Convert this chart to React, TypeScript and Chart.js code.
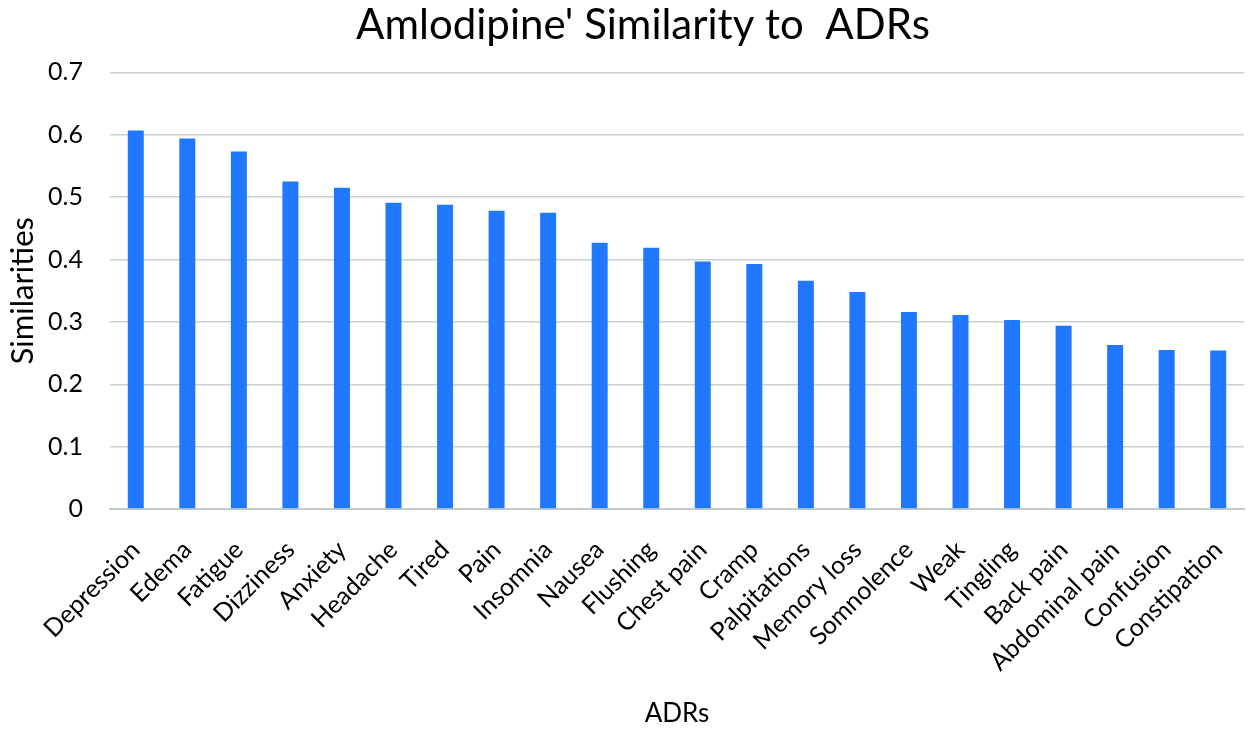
import React, { useEffect, useRef } from "react";
import { Chart, registerables } from "chart.js";

Chart.register(...registerables);

const categories = [
  "Depression", "Edema", "Fatigue", "Dizziness", "Anxiety", "Headache", "Tired", "Pain",
  "Insomnia", "Nausea", "Flushing", "Chest pain", "Cramp", "Palpitations", "Memory loss",
  "Somnolence", "Weak", "Tingling", "Back pain", "Abdominal pain", "Confusion", "Constipation",
];
const similarities = [
  0.607, 0.594, 0.573, 0.525, 0.515, 0.491, 0.488, 0.478, 0.475, 0.427, 0.419, 0.397,
  0.393, 0.366, 0.348, 0.316, 0.311, 0.303, 0.294, 0.263, 0.255, 0.254,
];
const yTicks = [0, 0.1, 0.2, 0.3, 0.4, 0.5, 0.6, 0.7];

const FONT = "Lato, 'Open Sans', sans-serif";

const shiftTitle = {
  id: "shiftTitle",
  afterLayout(c: any) {
    const t = c.titleBlock;
    if (t) t.left += 38;
  },
};

export default function App() {
  const ref = useRef<HTMLCanvasElement | null>(null);
  useEffect(() => {
    if (!ref.current) return;
    const chart = new Chart(ref.current, {
      type: "bar",
      data: {
        labels: categories,
        datasets: [
          {
            label: "Similarities",
            data: similarities,
            backgroundColor: "#1f78ff",
            borderColor: "#6aa6ff",
            borderWidth: 0,
            barPercentage: 0.31,
            categoryPercentage: 1,
          },
        ],
      },
      plugins: [shiftTitle],
      options: {
        animation: false,
        responsive: false,
        layout: { padding: { left: 4, right: 6, top: 0, bottom: 4 } },
        plugins: {
          legend: { display: false },
          tooltip: { enabled: false },
          title: {
            display: true,
            text: "Amlodipine' Similarity to  ADRs",
            color: "#000",
            font: { family: FONT, size: 42, weight: "normal" },
            padding: { top: 0, bottom: 22 },
          },
        },
        scales: {
          x: {
            grid: { display: false, drawTicks: false },
            border: { display: true, color: "#c4ccc8", width: 2 },
            afterFit: (axis: any) => {
              axis.paddingLeft = 0;
              axis.paddingRight = 0;
              axis.height = 220;
            },
            ticks: {
              color: "#000",
              font: { family: FONT, size: 25 },
              maxRotation: 45,
              minRotation: 45,
              autoSkip: false,
              padding: 26,
            },
            title: {
              display: true,
              text: "ADRs",
              color: "#000",
              font: { family: FONT, size: 26 },
              padding: { top: 0, bottom: 0 },
            },
          },
          y: {
            min: 0,
            max: 0.7,
            afterBuildTicks: (axis: any) => {
              axis.ticks = yTicks.map((v) => ({ value: v }));
            },
            afterFit: (axis: any) => {
              axis.width = 106;
            },
            grid: { color: "#c9d1cd", lineWidth: 1.5, drawTicks: false },
            border: { display: false },
            ticks: {
              color: "#000",
              font: { family: FONT, size: 25 },
              padding: 27,
              callback: (v: any) => String(Math.round(Number(v) * 10) / 10),
            },
            title: {
              display: true,
              text: "Similarities",
              color: "#000",
              font: { family: FONT, size: 31 },
              padding: { top: 0, bottom: 4 },
            },
          },
        },
      },
    });
    return () => chart.destroy();
  }, []);
  return (
    <div style={{ position: "fixed", left: 0, top: 0, width: 1250, height: 733, background: "#fff" }}>
      <canvas ref={ref} width={1250} height={733} style={{ width: 1250, height: 733 }} />
    </div>
  );
}
